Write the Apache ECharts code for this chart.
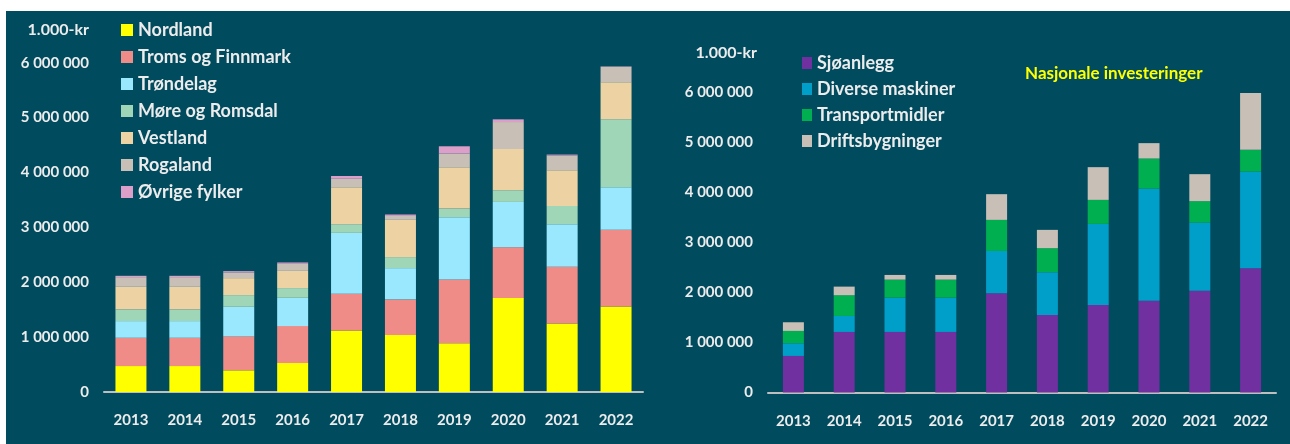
<!DOCTYPE html>
<html>
<head>
<meta charset="utf-8">
<script src="https://cdn.jsdelivr.net/npm/echarts@6/dist/echarts.min.js"></script>
<style>
  html, body { margin: 0; padding: 0; background: #ffffff; }
  #wrap { position: relative; width: 1290px; height: 444px; }
  #main { position: absolute; left: 6px; top: 11px; width: 1284px; height: 433px; }
</style>
</head>
<body>
<div id="wrap"><div id="main"></div></div>
<script>
// år
var years = ['2013', '2014', '2015', '2016', '2017', '2018', '2019', '2020', '2021', '2022'];

// venstre: fylker (1.000-kr)
var fylker = ['Nordland', 'Troms og Finnmark', 'Trøndelag', 'Møre og Romsdal', 'Vestland', 'Rogaland', 'Øvrige fylker'];
var nordland   = [473000, 473000, 395000, 528000, 1119000, 1037000, 886000, 1711000, 1250000, 1560000];
var troms      = [515000, 515000, 619000, 673000, 670000, 650000, 1165000, 928000, 1030000, 1394000];
var trondelag  = [304000, 304000, 538000, 515000, 1110000, 570000, 1134000, 824000, 777000, 777000];
var more       = [213000, 213000, 213000, 177000, 158000, 200000, 158000, 213000, 333000, 1237000];
var vestland   = [411000, 411000, 310000, 314000, 674000, 679000, 752000, 752000, 650000, 674000];
var rogaland   = [177000, 177000, 102000, 128000, 154000, 72000, 249000, 491000, 268000, 285000];
var ovrige     = [24000, 24000, 25000, 25000, 51000, 26000, 133000, 49000, 18000, 6000];
var fylkeFarger = ['#ffff00', '#f08c88', '#99e8fd', '#a0d6b8', '#edd3a4', '#c8bfb6', '#dc9fc9'];

// høyre: nasjonale investeringer (1.000-kr)
var typer = ['Sjøanlegg', 'Diverse maskiner', 'Transportmidler', 'Driftsbygninger'];
var sjoanlegg  = [729000, 1208000, 1208000, 1208000, 1980000, 1547000, 1747000, 1832000, 2032000, 2479000];
var maskiner   = [253000, 319000, 684000, 684000, 844000, 852000, 1616000, 2236000, 1357000, 1928000];
var transport  = [246000, 413000, 359000, 359000, 619000, 479000, 479000, 599000, 427000, 433000];
var drift      = [173000, 172000, 94000, 94000, 513000, 366000, 653000, 307000, 539000, 1132000];
var typeFarger = ['#7030a0', '#009fca', '#00b050', '#c8bfb6'];

var yTicks = [0, 1000000, 2000000, 3000000, 4000000, 5000000, 6000000];

var fnt = 'Lato, "Open Sans", sans-serif';
var txt = '#ececec';

function fmt(v) {
    return String(v).replace(/\B(?=(\d{3})+(?!\d))/g, ' ');
}

var venstreData = [nordland, troms, trondelag, more, vestland, rogaland, ovrige];
var hoyreData = [sjoanlegg, maskiner, transport, drift];

var series = [];
for (var i = 0; i < fylker.length; i++) {
    series.push({
        name: fylker[i],
        type: 'bar',
        stack: 'fylke',
        xAxisIndex: 0,
        yAxisIndex: 0,
        barWidth: 31,
        itemStyle: { color: fylkeFarger[i] },
        data: venstreData[i]
    });
}
for (var j = 0; j < typer.length; j++) {
    series.push({
        name: typer[j],
        type: 'bar',
        stack: 'nasjonal',
        xAxisIndex: 1,
        yAxisIndex: 1,
        barWidth: 21,
        itemStyle: { color: typeFarger[j] },
        data: hoyreData[j]
    });
}

function yAxis(grid, gap, pad) {
    return {
        type: 'value',
        gridIndex: grid,
        min: 0,
        max: yTicks[yTicks.length - 1],
        interval: 1000000,
        name: '1.000-kr',
        nameLocation: 'end',
        nameGap: gap,
        nameTextStyle: { color: txt, fontFamily: fnt, fontWeight: 'bold', fontSize: 16, align: 'right', padding: [0, pad, 0, 0] },
        axisLine: { show: false },
        axisTick: { show: false },
        splitLine: { show: false },
        axisLabel: { color: txt, fontFamily: fnt, fontWeight: 'bold', fontSize: 15, margin: 15, formatter: fmt }
    };
}

function xAxis(grid) {
    return {
        type: 'category',
        gridIndex: grid,
        data: years,
        axisLine: { lineStyle: { color: '#bfbfbf', width: 2 } },
        axisTick: { show: false },
        axisLabel: { color: txt, fontFamily: fnt, fontWeight: 'bold', fontSize: 15, margin: 21 }
    };
}

var chart = echarts.init(document.getElementById('main'));

var option = {
    backgroundColor: '#014b5e',
    animation: false,
    title: {
        text: 'Nasjonale investeringer',
        left: 1019,
        top: 54,
        padding: 0,
        textStyle: { color: '#ffff00', fontFamily: fnt, fontWeight: 'bold', fontSize: 17 }
    },
    legend: [
        {
            data: fylker,
            orient: 'vertical',
            left: 115,
            top: 10,
            padding: 0,
            itemGap: 9,
            itemWidth: 12,
            itemHeight: 12,
            icon: 'rect',
            selectedMode: false,
            textStyle: { color: txt, fontFamily: fnt, fontWeight: 'bold', fontSize: 18, lineHeight: 18 }
        },
        {
            data: typer,
            orient: 'vertical',
            left: 796,
            top: 43,
            padding: 0,
            itemGap: 8,
            itemWidth: 10,
            itemHeight: 12,
            icon: 'rect',
            selectedMode: false,
            textStyle: { color: txt, fontFamily: fnt, fontWeight: 'bold', fontSize: 18, lineHeight: 18 }
        }
    ],
    grid: [
        { left: 98, top: 51.7, width: 539, height: 329.3 },
        { left: 762, top: 80.7, width: 508, height: 300.8 }
    ],
    xAxis: [xAxis(0), xAxis(1)],
    yAxis: [yAxis(0, 25, 15), yAxis(1, 31, 11)],
    series: series
};

chart.setOption(option);
</script>
</body>
</html>
